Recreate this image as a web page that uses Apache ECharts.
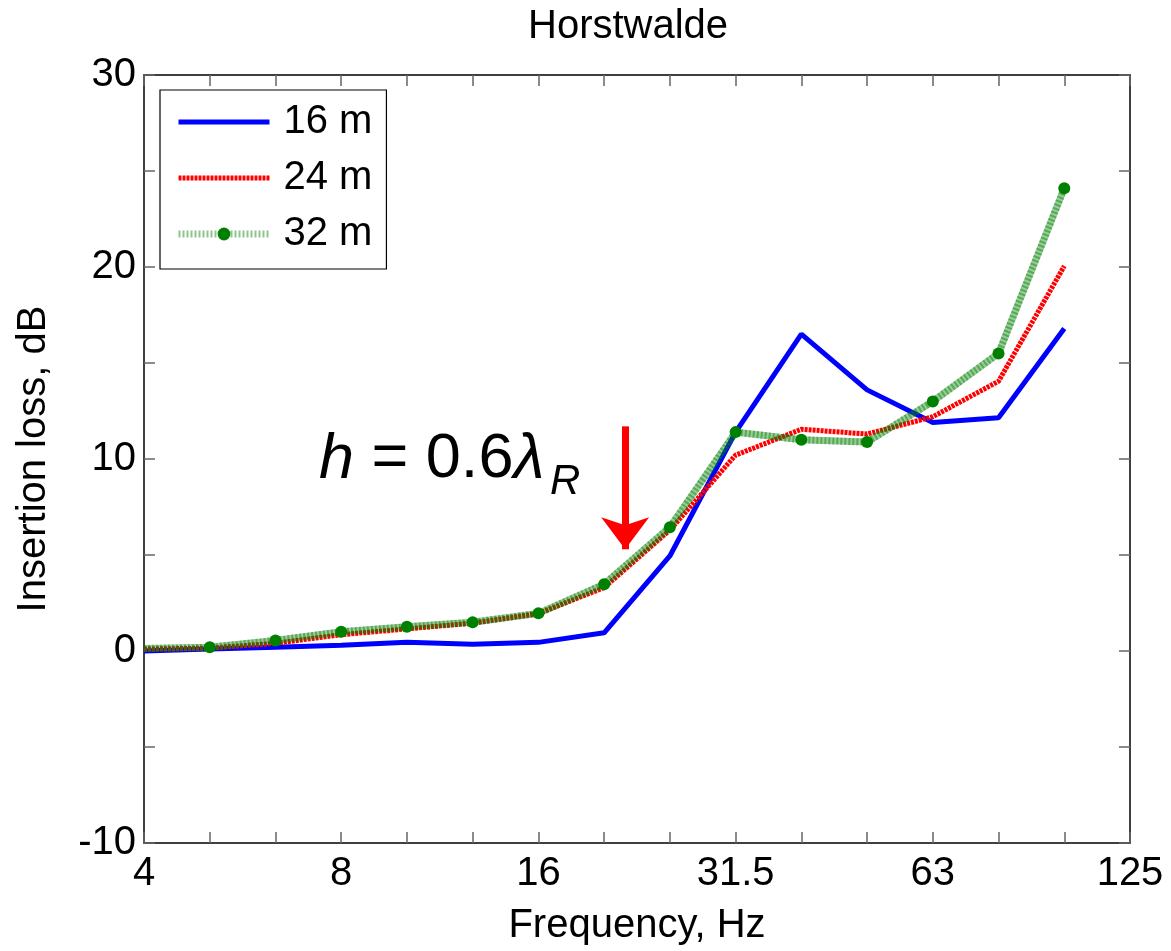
<!DOCTYPE html>
<html>
<head>
<meta charset="utf-8">
<title>Horstwalde</title>
<script src="https://cdn.jsdelivr.net/npm/echarts@6/dist/echarts.min.js"></script>
<style>
  html, body { margin: 0; padding: 0; background: #fff; }
  #chart { width: 1171px; height: 951px; }
</style>
</head>
<body>
<div id="chart"></div>
<script>
// 1/3-octave band centre frequencies, Hz (x axis runs over band index)
const freqLabels = ['4', '5', '6.3', '8', '10', '12.5', '16', '20', '25', '31.5', '40', '50', '63', '80', '100', '125']
// insertion loss, dB, for bands 4 .. 100 Hz
const il16 = [0.0, 0.1, 0.2, 0.3, 0.45, 0.35, 0.45, 0.95, 4.95, 11.4, 16.5, 13.6, 11.9, 12.15, 16.8]
const il24 = [0.1, 0.15, 0.4, 0.85, 1.15, 1.45, 1.95, 3.3, 6.3, 10.2, 11.55, 11.3, 12.2, 14.05, 20.05]
const il32 = [0.13, 0.19, 0.55, 1.0, 1.26, 1.5, 1.96, 3.48, 6.45, 11.4, 11.0, 10.88, 13.0, 15.5, 24.1]
// arrow annotation: band index, top and tip in dB
const arrowX = 7.32
const arrowTop = 11.7
const arrowTip = 5.3

const FONT = "'Liberation Sans', Arial, sans-serif"
const toXY = arr => arr.map((v, i) => [i, v])

const chart = echarts.init(document.getElementById('chart'))

// shared axis look (matlab style frame, ticks pointing inward)
const xBase = {
  type: 'value',
  min: 0,
  max: freqLabels.length - 1,
  interval: 1,
  axisLine: { show: true, onZero: false, lineStyle: { color: '#000', width: 1.5 } },
  axisTick: { show: true, inside: true, length: 11, lineStyle: { color: '#666', width: 1.5 } },
  splitLine: { show: false }
}
const yBase = {
  type: 'value',
  min: -10,
  max: 30,
  interval: 5,
  axisLine: { show: true, onZero: false, lineStyle: { color: '#000', width: 1.5 } },
  axisTick: { show: true, inside: true, length: 11, lineStyle: { color: '#666', width: 1.5 } },
  splitLine: { show: false }
}

const option = {
  animation: false,
  backgroundColor: '#fff',
  textStyle: { fontFamily: FONT },
  title: {
    text: 'Horstwalde',
    left: 528,
    top: 7,
    padding: 0,
    textStyle: { fontFamily: FONT, fontSize: 40, fontWeight: 'normal', color: '#000', lineHeight: 40 }
  },
  legend: {
    orient: 'vertical',
    left: 160,
    top: 90,
    padding: [12, 14, 15, 15],
    backgroundColor: '#fff',
    borderColor: '#000',
    borderWidth: 1.2,
    itemWidth: 91,
    itemHeight: 16,
    itemGap: 16,
    data: ['16 m', '24 m', '32 m'],
    lineStyle: { width: 'inherit' },
    textStyle: { fontFamily: FONT, fontSize: 40, color: '#000', lineHeight: 40, padding: [0, 0, 0, 9] }
  },
  grid: { left: 144, right: 41, top: 75, bottom: 107 },
  xAxis: [
    Object.assign({}, xBase, {
      position: 'bottom',
      name: 'Frequency, Hz',
      nameLocation: 'middle',
      nameGap: 63,
      nameTextStyle: { fontFamily: FONT, fontSize: 40, color: '#000', lineHeight: 40 },
      axisLabel: {
        fontFamily: FONT, fontSize: 40, color: '#000', margin: 11, lineHeight: 40,
        formatter: v => (v % 3 === 0 ? freqLabels[v] : '')
      }
    }),
    Object.assign({}, xBase, { position: 'top', axisLabel: { show: false } })
  ],
  yAxis: [
    Object.assign({}, yBase, {
      position: 'left',
      name: 'Insertion loss, dB',
      nameLocation: 'middle',
      nameGap: 90,
      nameTextStyle: { fontFamily: FONT, fontSize: 40, color: '#000', lineHeight: 40 },
      axisLabel: {
        fontFamily: FONT, fontSize: 40, color: '#000', margin: 8,
        formatter: v => (v % 10 === 0 ? String(v) : '')
      }
    }),
    Object.assign({}, yBase, { position: 'right', axisLabel: { show: false } })
  ],
  series: [
    {
      name: '16 m',
      type: 'line',
      data: toXY(il16),
      symbol: 'none',
      lineStyle: { color: '#0000ff', width: 5 },
      // transparent so the legend shows a bare line
      itemStyle: { color: 'rgba(0,0,0,0)' }
    },
    {
      name: '24 m',
      type: 'line',
      data: toXY(il24),
      symbol: 'none',
      lineStyle: { color: '#ff0000', width: 5, type: [3, 1] },
      itemStyle: { color: 'rgba(0,0,0,0)' },
      markLine: {
        silent: true,
        symbol: ['none', 'arrow'],
        symbolSize: [36, 32],
        label: { show: false },
        lineStyle: { color: '#ff0000', width: 7, type: 'solid' },
        data: [[{ coord: [arrowX, arrowTop] }, { coord: [arrowX, arrowTip] }]]
      }
    },
    {
      // light underlay of the hatched green line
      name: '32 m base',
      type: 'line',
      data: toXY(il32),
      symbol: 'none',
      silent: true,
      lineStyle: { color: 'rgba(0,128,0,0.4)', width: 7 }
    },
    {
      name: '32 m',
      type: 'line',
      data: toXY(il32),
      symbol: 'circle',
      symbolSize: (v, p) => (p.dataIndex === 0 ? 0 : 12),
      lineStyle: { color: 'rgba(0,128,0,0.45)', width: 7, type: [2, 2] },
      itemStyle: { color: '#008000' }
    }
  ],
  graphic: [
    {
      type: 'text',
      x: 319,
      y: 460,
      style: {
        text: '{i|h} = 0.6{i|λ}',
        fontFamily: FONT,
        fontSize: 63,
        fill: '#000',
        verticalAlign: 'middle',
        rich: {
          i: { fontFamily: FONT, fontSize: 63, fontStyle: 'italic', fill: '#000' }
        }
      }
    },
    {
      type: 'text',
      x: 550,
      y: 482,
      style: {
        text: 'R',
        fontFamily: FONT,
        fontSize: 42,
        fontStyle: 'italic',
        fill: '#000',
        verticalAlign: 'middle'
      }
    }
  ]
}

chart.setOption(option)
</script>
</body>
</html>
